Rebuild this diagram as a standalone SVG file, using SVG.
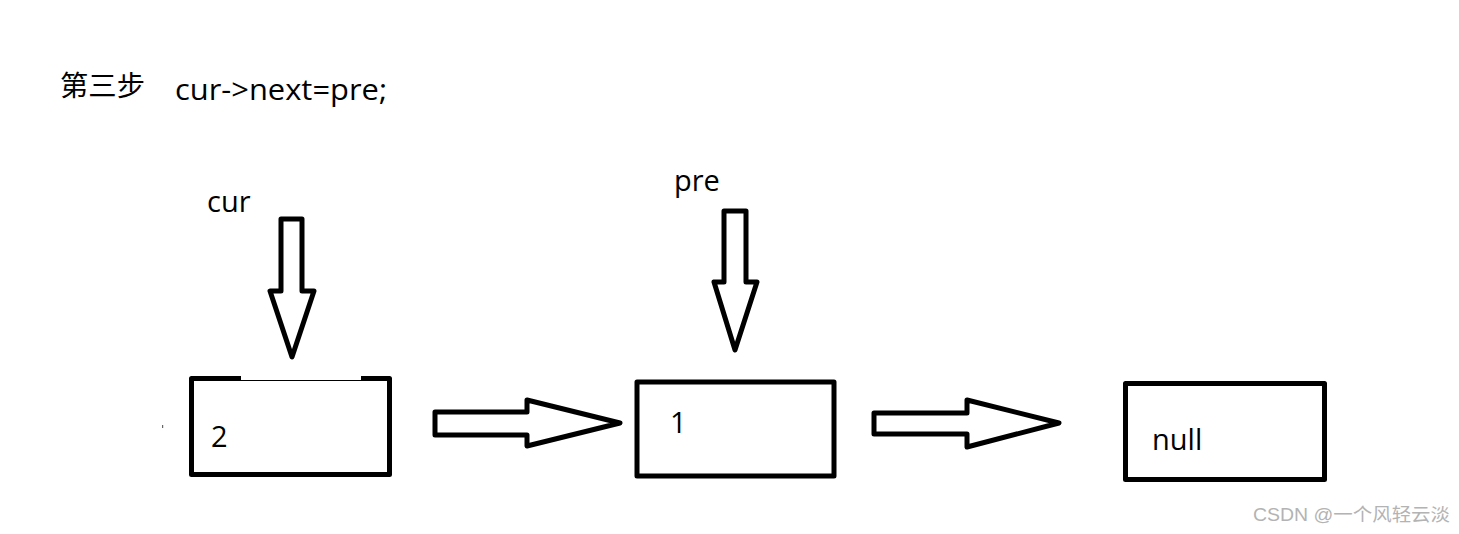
<svg xmlns="http://www.w3.org/2000/svg" width="1459" height="534" viewBox="0 0 1459 534">
<style>
.t{font-family:"Open Sans","Noto Sans CJK SC",sans-serif;font-size:29px;fill:#000}
.cjk{font-family:"Noto Sans CJK SC",sans-serif;font-size:28px;fill:#000}
.shape{fill:#fff;stroke:#000;stroke-width:5;stroke-linejoin:round}
.wm{font-family:"Liberation Sans","Noto Sans CJK SC",sans-serif;font-size:18px;fill:#b3b3b3}
</style>
<rect width="1459" height="534" fill="#fff"/>
<g id="title">
<text class="cjk" x="60" y="96" textLength="85" lengthAdjust="spacingAndGlyphs">第三步</text>
<text class="t" x="175" y="100" textLength="212" lengthAdjust="spacingAndGlyphs">cur-&gt;next=pre;</text>
</g>
<g id="node-cur-label">
<text class="t" x="207" y="212">cur</text>
</g>
<g id="node-pre-label">
<text class="t" x="674" y="191">pre</text>
</g>
<g id="node-2">
<path class="shape" d="M241,378.5 H191.5 V474.5 H389.5 V378.5 H361" fill="none"/>
<line x1="241" y1="380.5" x2="361" y2="380.5" stroke="#000" stroke-width="1"/>
<text class="t" x="211" y="447">2</text>
<rect x="162" y="425" width="1.2" height="3" fill="#666"/>
</g>
<g id="node-1">
<rect class="shape" x="637" y="382" width="197" height="94"/>
<text class="t" x="670" y="433">1</text>
</g>
<g id="node-null">
<rect class="shape" x="1125.5" y="383.5" width="199" height="96"/>
<text class="t" x="1152" y="450">null</text>
</g>
<g id="connectors">
<polygon class="shape" points="281,219 302,219 302,291 314,291 292,357 270,291 281,291"/>
<polygon class="shape" points="724,211 746,211 746,282 757,282 735,350 714,282 724,282"/>
<polygon class="shape" points="435,412 527,412 527,400 620,423 527,446 527,435 435,435"/>
<polygon class="shape" points="874,413 967,413 967,400 1059,423 967,447 967,434 874,434"/>
</g>
<g id="watermark">
<text class="wm" x="1253" y="521" textLength="197" lengthAdjust="spacingAndGlyphs">CSDN @一个风轻云淡</text>
</g>
</svg>
